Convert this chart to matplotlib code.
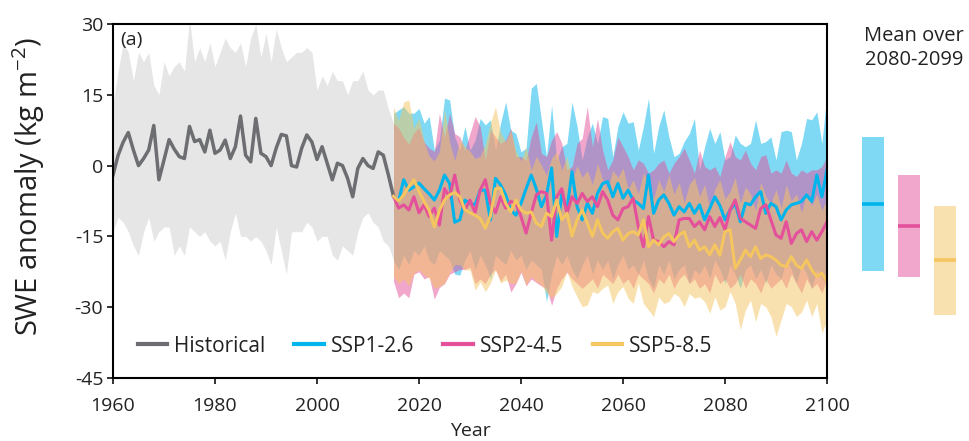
import numpy as np
import matplotlib
matplotlib.use("Agg")
import matplotlib.pyplot as plt

plt.rcParams['font.family'] = ['Open Sans', 'DejaVu Sans']
plt.rcParams['mathtext.default'] = 'regular'
plt.rcParams['axes.unicode_minus'] = False

# historical ensemble mean and range, 1960-2015
hist_mean = [-2.0, 2.2, 5.0, 7.0, 3.3, 0.0, 1.5, 3.3, 8.5, -3.0,
             1.2, 5.5, 3.5, 1.9, 1.5, 8.3, 5.1, 5.5, 2.9, 7.5,
             2.6, 3.3, 5.4, 1.5, 4.0, 10.5, 2.2, 0.8, 10.0, 2.6,
             1.9, 0.0, 3.7, 6.6, 6.3, 0.0, -0.3, 3.7, 6.5, 5.0,
             1.3, 4.0, 0.5, -3.0, 0.5, 0.0, -2.7, -6.6, -0.6, 1.5,
             0.0, -0.6, 2.9, 2.2, -2.0, -6.5]
hist_hi = [13, 20, 26, 24, 18, 24, 22, 24, 17, 15,
           22, 19, 21, 22, 20, 31, 22, 25, 22, 26,
           21, 24, 27, 25, 24, 26, 21, 27, 30, 23,
           28, 22, 29, 25, 22, 23, 24, 24, 25, 24,
           16, 19, 17, 20, 18, 18, 15, 18, 18, 20,
           16, 15, 16, 16, 12, 9]
hist_lo = [-14, -11, -12, -14, -17, -19, -14, -11, -16, -14,
           -13, -13, -19, -17, -19, -13, -14, -15, -14, -16,
           -17, -16, -20, -14, -10, -15, -15, -16, -15, -16,
           -18, -21, -13, -18, -23, -14, -14, -14, -12, -13,
           -16, -15, -15, -19, -20, -17, -18, -19, -14, -11,
           -10, -12, -13, -16, -17, -20]

# scenarios, 2015-2100
ssp126 = [-6.5, -7.5, -3.0, -5.2, -4.5, -3.7, -4.9, -6.0, -7.3, -5.2,
          -2.0, -3.8, -12.0, -11.5, -7.3, -8.0, -8.3, -5.2, -5.2, -11.5,
          -2.7, -4.1, -6.2, -9.4, -10.5, -8.0, -4.9, -2.0, -4.9, -8.7,
          -6.2, -0.5, -15.0, -5.9, -9.4, -1.3, -8.7, -11.5, -8.0, -10.1,
          -5.9, -3.8, -3.4, -6.6, -3.8, -6.9, -5.2, -7.3, -8.0, -9.1,
          -2.0, -10.1, -7.3, -6.2, -8.0, -10.5, -8.7, -9.8, -8.0, -10.1,
          -8.3, -11.5, -9.1, -6.6, -8.5, -11.5, -9.4, -8.0, -11.9, -8.0,
          -8.3, -6.6, -5.5, -10.1, -8.0, -8.7, -11.5, -9.4, -8.3, -8.0,
          -7.6, -6.2, -7.6, -2.0, -6.6, -0.9]
ssp245 = [-6.5, -9.0, -8.3, -9.4, -6.6, -10.0, -8.3, -10.8, -9.0, -12.6,
          -4.9, -6.6, -2.0, -7.3, -9.4, -7.3, -10.0, -5.2, -3.0, -8.0,
          -10.0, -6.6, -9.0, -7.6, -8.0, -10.8, -14.3, -10.1, -6.2, -5.5,
          -5.9, -15.8, -6.6, -4.9, -10.1, -6.6, -8.0, -5.9, -7.6, -6.6,
          -8.7, -5.5, -7.3, -10.5, -11.5, -9.1, -8.7, -6.9, -12.9, -17.2,
          -10.8, -15.8, -16.1, -17.2, -16.1, -16.8, -11.5, -11.2, -11.2, -12.9,
          -11.9, -13.6, -10.8, -12.9, -11.0, -13.6, -9.4, -7.3, -11.2, -11.9,
          -12.6, -13.3, -9.1, -8.3, -11.5, -14.7, -15.4, -11.9, -16.5, -14.4,
          -13.6, -16.1, -14.0, -15.8, -14.0, -11.9]
ssp585 = [-6.5, -7.5, -6.2, -4.5, -3.0, -5.5, -7.6, -9.5, -13.0, -9.5,
          -7.3, -6.2, -5.7, -6.6, -9.4, -10.0, -10.5, -11.2, -13.3, -10.7,
          -4.9, -4.8, -8.0, -9.8, -7.3, -9.4, -10.1, -9.8, -12.2, -12.9,
          -10.1, -10.8, -7.3, -11.5, -10.1, -14.9, -11.5, -9.4, -12.2, -15.0,
          -11.5, -14.3, -15.4, -14.0, -13.3, -15.8, -14.4, -14.0, -14.7, -11.5,
          -17.2, -15.8, -16.8, -15.1, -14.4, -16.1, -14.7, -14.0, -17.2, -15.8,
          -17.9, -17.2, -18.9, -16.8, -19.0, -14.0, -13.6, -21.8, -20.0, -17.9,
          -19.3, -17.2, -19.7, -18.9, -19.3, -20.0, -21.1, -21.4, -19.3, -21.1,
          -21.8, -20.0, -22.1, -23.5, -22.8, -24.5]

ssp126_hi = [11.0, 11.8, 12.5, 11.1, 11.1, 12.1, 9.0, 10.4, 3.3, 5.4,
             14.3, 13.9, 6.1, 3.3, 8.3, 3.3, 5.4, 10.0, 8.6, 9.7,
             3.3, 9.0, 13.5, 7.5, 6.8, 2.9, 3.7, 16.4, 17.4, 9.7,
             1.9, 12.8, 1.2, 4.0, 4.7, 13.5, 8.3, 1.2, 6.1, 9.0,
             4.7, 10.4, 10.0, 1.9, 8.3, 11.4, 9.0, 9.3, 3.3, 8.3,
             14.3, 2.6, 8.3, 11.8, 6.1, 1.9, 2.6, 5.1, 6.8, 10.0,
             -0.9, 4.0, 7.9, 4.7, 7.2, 1.2, 1.9, 6.5, 4.7, 4.0,
             4.7, 9.7, 4.7, 5.1, 6.1, 1.2, 7.2, 7.5, 7.2, 1.2,
             4.7, 10.0, 9.7, 11.4, 4.7, 15.3]
ssp126_lo = [-20, -22, -19, -21, -18, -19, -17, -20, -21, -18,
             -19, -20, -23, -23.2, -20, -18, -22, -19, -21, -24,
             -19, -20, -21, -18, -20, -19, -22, -20, -21, -22,
             -28.8, -23, -19, -21, -19, -22, -24, -21, -19, -23,
             -20, -22, -20, -24, -21, -19, -22, -21, -23, -20,
             -24, -26, -21, -23, -20, -24, -22, -21, -25, -22,
             -23, -21, -24, -20, -22, -25, -21, -23, -26, -22,
             -21, -24, -22, -25, -21, -23, -24, -20, -22, -25,
             -21, -23, -26, -22, -24, -25]
ssp245_hi = [9.0, 8.0, 6.0, 4.5, 7.0, 8.0, 5.0, 3.7, 3.0, 11.1,
             6.0, 11.1, 6.8, 6.1, 3.3, 6.8, 10.4, 8.3, 1.2, 7.5,
             6.1, 4.7, 5.4, 7.9, 1.9, 1.9, 1.2, 6.1, 9.3, 2.6,
             1.9, 5.4, 7.2, 4.7, -0.9, -0.2, 4.7, 5.8, 12.5, 4.0,
             10.0, 3.3, -0.9, 1.2, 6.1, 4.0, 1.9, -0.9, 1.2, 0.5,
             -1.6, -0.9, 0.5, 1.2, -1.6, 0.5, 1.9, 3.7, 1.2, -1.6,
             3.3, -0.2, -0.9, -0.2, -2.3, 1.9, 5.1, 1.9, 1.2, 3.3,
             0.5, -0.9, 1.9, 2.3, -1.6, -0.9, -1.6, 1.2, -1.6, -2.3,
             -0.9, -1.6, -0.9, -0.9, -0.2, 2.0]
ssp245_lo = [-24.5, -28, -27, -28, -23, -22.5, -24, -23.5, -28.3, -25.8,
             -25, -23, -22.5, -22, -22, -21.5, -25, -24, -25, -23,
             -22, -24.5, -23, -26.8, -25, -22.6, -25.5, -24, -24.8, -25.5,
             -26, -29.6, -26, -24, -22.6, -24, -25, -26, -25, -24,
             -26, -23, -24, -25, -23, -25, -24, -26, -23, -24,
             -25, -27, -24, -25, -23, -26, -24, -23, -25, -24,
             -26, -25, -27, -23, -25, -24, -26, -25, -23, -26,
             -24, -25, -27, -24, -26, -25, -24, -26, -23, -25,
             -27, -24, -26, -25, -27, -24]
ssp585_hi = [12.5, 9.5, 13.5, 13.9, 8.0, 10.0, 5.0, 2.0, 1.0, 3.0,
             12.0, 5.0, 1.0, 5.5, 4.0, 3.0, 1.5, 2.0, 4.5, 9.0,
             12.5, 7.0, 5.0, 7.5, 3.0, 1.0, 4.0, -1.0, 2.0, 0.0,
             -2.0, 1.5, 3.0, -1.0, 2.0, -3.0, 0.0, -2.5, -1.0, -4.0,
             0.5, -3.0, -5.0, -1.0, -2.5, -0.5, -5.0, -3.0, -6.0, -1.5,
             -4.0, -7.0, -3.0, -5.5, -2.0, -6.0, -3.5, -8.0, -4.0, -2.5,
             -6.5, -4.0, -9.0, -5.0, -3.0, -7.0, -5.5, -2.5, -8.0, -4.5,
             -6.0, -9.5, -3.5, -6.5, -8.0, -5.0, -9.0, -4.0, -7.5, -6.0,
             -10.0, -5.5, -8.5, -6.0, -9.5, -7.0]
ssp585_lo = [-23.5, -25, -24, -25.5, -22.8, -22.1, -23.2, -23.9, -26, -25.6,
             -24.9, -22.8, -21, -21, -22.1, -22.1, -26.4, -24.6, -26.7, -24.9,
             -22.1, -24.9, -24.2, -25, -24.9, -22.4, -25.3, -23.5, -24.6, -25.3,
             -27, -28, -27.1, -25.6, -22.4, -25.6, -27.8, -29.9, -29.5, -26.7,
             -27.1, -26, -25.3, -29.2, -26.7, -25.6, -28.1, -29.2, -24.9, -29.2,
             -30.6, -32, -27.8, -29.2, -28.8, -27.1, -27.8, -29.9, -27.1, -28.1,
             -27.8, -28.8, -31.3, -27.8, -30.6, -29.9, -26.7, -29.2, -34.8, -30.6,
             -28.5, -33.1, -29.2, -29.9, -32, -36.2, -32.7, -29.2, -29.9, -32,
             -31, -28.5, -32, -29.2, -35.5, -32.7]

# mean over 2080-2099
box_top = [6.1, -2.0, -8.6]
box_bottom = [-22.3, -23.6, -31.6]
box_mean = [-8.2, -12.9, -20.1]

labels = ['SSP1-2.6', 'SSP2-4.5', 'SSP5-8.5']
colors = ['#00b4ec', '#e4509b', '#f5c560']
txt = '#222222'

hist_years = np.arange(1960, 1960 + len(hist_mean))
fut_years = np.arange(2015, 2015 + len(ssp126))

fig = plt.figure(figsize=(9.7, 4.41), dpi=100)
ax = fig.add_axes([113 / 970, 63 / 441, 714 / 970, 354 / 441])

ax.fill_between(hist_years, hist_lo, hist_hi, color='#e6e6e6', lw=0)
for lo, hi, c in zip([ssp126_lo, ssp245_lo, ssp585_lo],
                     [ssp126_hi, ssp245_hi, ssp585_hi], colors):
    ax.fill_between(fut_years, lo, hi, color=c, alpha=0.5, lw=0)

ax.plot(hist_years, hist_mean, color='#6d6e71', lw=2.5, label='Historical')
for vals, c, lab in zip([ssp126, ssp245, ssp585], colors, labels):
    ax.plot(fut_years, vals, color=c, lw=2.2, label=lab)

ax.set_xlim(1960, 2100)
ax.set_ylim(-45, 30)
ax.set_xticks(np.arange(1960, 2101, 20))
ax.set_yticks(np.arange(-45, 31, 15))
for s in ax.spines.values():
    s.set_linewidth(1.5)
ax.tick_params(direction='out', length=4, width=1.3, labelsize=14, colors=txt, pad=3)
ax.tick_params(axis='x', pad=10)
ax.set_xlabel('Year', fontsize=14, labelpad=5, color=txt)
ax.set_ylabel('SWE anomaly (kg m$^{-2}$)', fontsize=21, color=txt)
ax.yaxis.set_label_coords(-0.092, 0.54)
ax.text(0.01, 0.955, '(a)', transform=ax.transAxes, fontsize=14,
        va='center', ha='left', color=txt)

leg = ax.legend(loc='center', bbox_to_anchor=(0.437, 0.09), ncol=4, frameon=False,
                fontsize=15, handlelength=1.4, handletextpad=0.35, columnspacing=1.4)
for text in leg.get_texts():
    text.set_color(txt)
for line in leg.get_lines():
    line.set_linewidth(3)

ax2 = fig.add_axes([845 / 970, 63 / 441, 125 / 970, 354 / 441])
ax2.set_ylim(-45, 30)
ax2.set_xlim(-0.78, 2.69)
ax2.axis('off')
xb = np.arange(3)
ax2.bar(xb, np.array(box_top) - np.array(box_bottom), bottom=box_bottom,
        width=0.61, color=colors, alpha=0.5, lw=0)
ax2.hlines(box_mean, xb - 0.305, xb + 0.305, colors=colors, lw=2.6)

fig.text(914 / 970, 1 - 48 / 441, 'Mean over\n2080-2099', ha='center', va='center',
         fontsize=14.5, linespacing=1.3, color=txt)

fig.savefig('out.png', dpi=100)
